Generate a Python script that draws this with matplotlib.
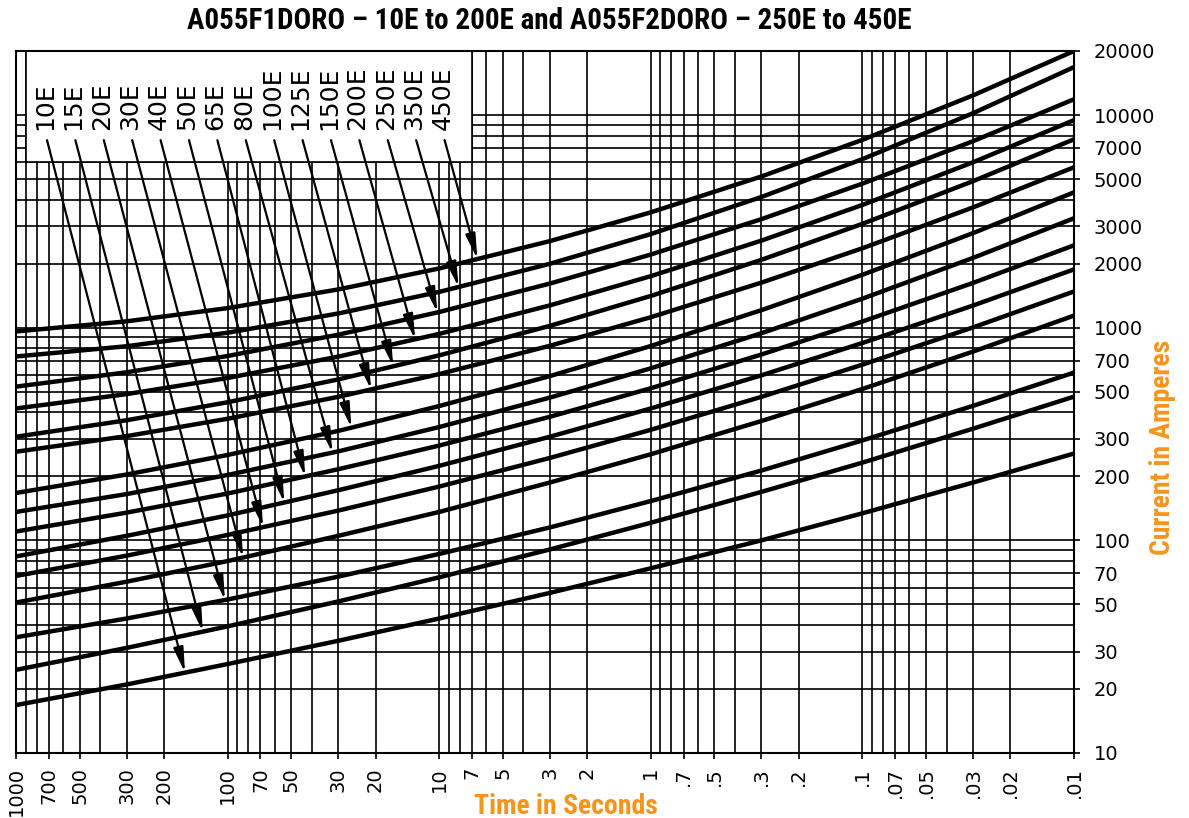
import numpy as np
import matplotlib
matplotlib.use("Agg")
import matplotlib.pyplot as plt
from matplotlib.patches import Rectangle
from matplotlib.ticker import NullLocator

times = [1000, 300, 100, 30, 10, 3, 1, 0.3, 0.1, 0.03, 0.01]

# current (amperes) of each fuse curve at those times
amps_10E = [16.8, 21.0, 26.2, 33.7, 42.9, 56.6, 73.9, 100, 134, 187, 256]
amps_15E = [24.6, 31.2, 39.4, 51.6, 67, 90.6, 121, 169, 232, 335, 474]
amps_20E = [35, 42.9, 52.7, 67.5, 86.3, 115, 153, 213, 295, 429, 615]
amps_30E = [51, 63.9, 79.9, 105, 136, 187, 254, 364, 515, 772, 1140]
amps_40E = [68, 84.7, 106, 138, 179, 244, 331, 473, 670, 1003, 1480]
amps_50E = [84, 105, 131, 172, 224, 307, 417, 597, 847, 1271, 1880]
amps_65E = [110, 135, 166, 216, 279, 381, 519, 748, 1069, 1624, 2440]
amps_80E = [136, 165, 203, 262, 341, 469, 644, 942, 1369, 2129, 3270]
amps_100E = [167, 204, 252, 327, 428, 592, 820, 1209, 1773, 2784, 4330]
amps_125E = [261, 309, 373, 473, 605, 822, 1120, 1629, 2363, 3677, 5680]
amps_150E = [307, 367, 446, 571, 741, 1020, 1410, 2085, 3078, 4886, 7690]
amps_200E = [417, 487, 580, 731, 935, 1273, 1747, 2567, 3777, 5996, 9460]
amps_250E = [528, 617, 736, 927, 1185, 1612, 2208, 3239, 4757, 7533, 11860]
amps_350E = [732, 818, 947, 1166, 1473, 1997, 2755, 4117, 6202, 10200, 16800]
amps_450E = [960, 1071, 1236, 1513, 1899, 2553, 3486, 5142, 7642, 12370, 20000]

ratings = ["10E", "15E", "20E", "30E", "40E", "50E", "65E", "80E",
           "100E", "125E", "150E", "200E", "250E", "350E", "450E"]
# time (s) where each label's arrow meets its curve
arrow_times = [159, 131, 103, 84.5, 68, 54, 43, 32, 26, 21, 16.5, 13, 10.2, 8.1, 6.6]

x_ticks = [1000, 700, 500, 300, 200, 100, 70, 50, 30, 20, 10, 7, 5, 3, 2,
           1, .7, .5, .3, .2, .1, .07, .05, .03, .02, .01]
x_labels = ["1000", "700", "500", "300", "200", "100", "70", "50", "30", "20",
            "10", "7", "5", "3", "2", "1", ".7", ".5", ".3", ".2", ".1",
            ".07", ".05", ".03", ".02", ".01"]
y_ticks = [10, 20, 30, 50, 70, 100, 200, 300, 500, 700, 1000, 2000, 3000,
           5000, 7000, 10000, 20000]

curves = [amps_10E, amps_15E, amps_20E, amps_30E, amps_40E, amps_50E, amps_65E,
          amps_80E, amps_100E, amps_125E, amps_150E, amps_200E, amps_250E,
          amps_350E, amps_450E]

orange = "#F7941D"
narrow = ["Roboto Condensed", "Liberation Sans Narrow", "Roboto", "DejaVu Sans"]

fig = plt.figure(figsize=(11.89, 8.18), dpi=100)
ax = fig.add_axes([16 / 1189, 1 - 753 / 818, 1058 / 1189, 702 / 818])
ax.set_xscale("log")
ax.set_yscale("log")
ax.set_xlim(1000, 0.01)
ax.set_ylim(10, 20000)

# log grid 1..9 per decade
for e in range(-2, 3):
    for m in range(1, 10):
        ax.axvline(m * 10.0 ** e, color="black", lw=1.2, zorder=1)
for e in range(1, 4):
    for m in range(1, 10):
        ax.axhline(m * 10.0 ** e, color="black", lw=1.2, zorder=1)
ax.axhline(10000, color="black", lw=1.2, zorder=1)

# blank box behind the labels
ax.add_patch(Rectangle((7, 6000), 893, 14000, facecolor="white",
                       edgecolor="black", lw=1.2, zorder=2))

# fuse curves
for amps in curves:
    ax.plot(times, amps, color="black", lw=3.2, zorder=3,
            solid_capstyle="butt", solid_joinstyle="round")

# labels + arrows
logt = -np.log10(times)
for i, (name, amps) in enumerate(zip(ratings, curves)):
    fx = (45 + 28.4 * i - 16) / 1058
    ax.text(fx, 0.887, name, rotation=90, ha="center", va="bottom",
            transform=ax.transAxes, fontsize=18, zorder=5)
    t_tip = arrow_times[i]
    i_tip = 10 ** np.interp(-np.log10(t_tip), logt, np.log10(amps))
    ax.annotate("", xy=(t_tip, i_tip), xytext=(fx + 2 / 1058, 0.873),
                textcoords="axes fraction",
                arrowprops=dict(arrowstyle="-|>,head_length=1.0,head_width=0.2",
                                mutation_scale=15, lw=1.6, color="black",
                                shrinkA=0, shrinkB=0),
                zorder=4)

ax.xaxis.set_minor_locator(NullLocator())
ax.yaxis.set_minor_locator(NullLocator())
ax.set_xticks(x_ticks)
ax.set_xticklabels(x_labels, rotation=90, fontsize=14)
ax.yaxis.tick_right()
ax.set_yticks(y_ticks)
ax.set_yticklabels([str(v) for v in y_ticks], fontsize=14)
ax.tick_params(axis="x", length=4, width=1.2, pad=6)
ax.tick_params(axis="y", length=4, width=1.2, pad=10)
for s in ax.spines.values():
    s.set_linewidth(1.5)

fig.text(549 / 1189, 1 - 21 / 818,
         "A055F1DORO \u2013 10E to 200E and A055F2DORO \u2013 250E to 450E",
         ha="center", va="center", fontsize=21, fontweight="bold", family=narrow)
fig.text(566 / 1189, 1 - 806 / 818, "Time in Seconds", ha="center", va="center",
         fontsize=20, fontweight="bold", color=orange, family=narrow)
fig.text(1163 / 1189, 1 - 447 / 818, "Current in Amperes", ha="center",
         va="center", rotation=90, fontsize=20, fontweight="bold", color=orange,
         family=narrow)

fig.savefig("out.png", dpi=100)
